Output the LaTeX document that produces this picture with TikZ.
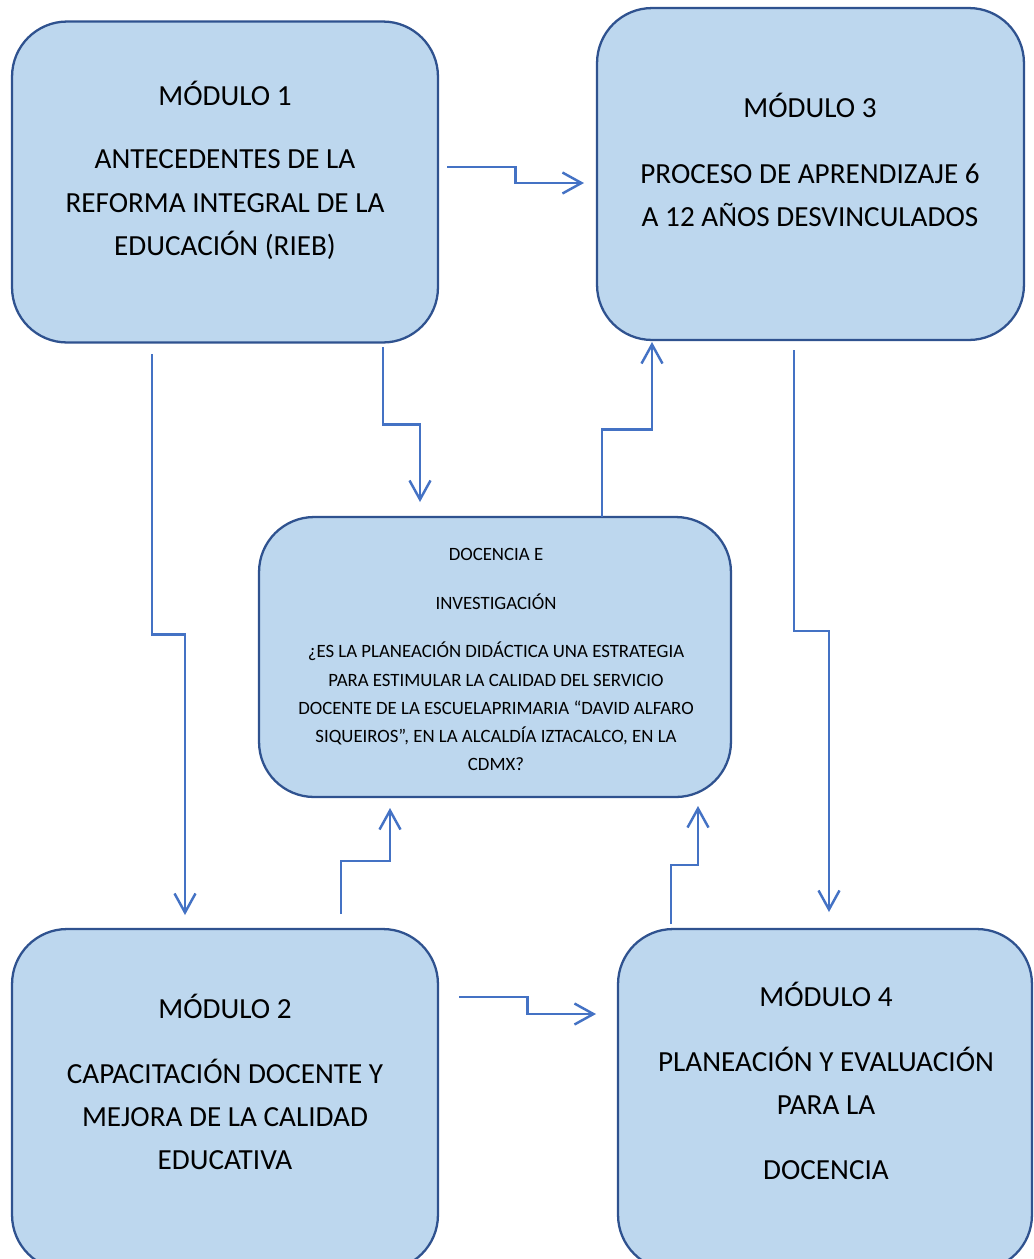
\documentclass[tikz,border=0pt]{standalone}
\usepackage{fontspec}
\setmainfont{Carlito}
\usetikzlibrary{arrows.meta,calc}
\definecolor{boxfill}{HTML}{BDD7EE}
\definecolor{boxline}{HTML}{2F528F}
\definecolor{conn}{HTML}{4472C4}
\begin{document}
\begin{tikzpicture}[x=0.02cm,y=-0.02cm,
  modbox/.style={draw=boxline,fill=boxfill,line width=1.3pt,rounded corners=1.1cm,inner sep=0pt,outer sep=0pt},
  bigtxt/.style={anchor=base,inner sep=0pt,font=\fontsize{16.6}{20}\selectfont},
  smalltxt/.style={anchor=base,inner sep=0pt,font=\fontsize{10.7}{12}\selectfont},
  conline/.style={draw=conn,line width=1.4pt,-{Straight Barb[length=0.38cm,width=0.42cm]}}]
\useasboundingbox (0,0) rectangle (1034,1259);
\clip (0,0) rectangle (1034,1259);
% boxes
\node[modbox,minimum width=8.52cm,minimum height=6.42cm] (m1) at (225,182) {};
\node[modbox,minimum width=8.54cm,minimum height=6.64cm] (m3) at (810.5,174) {};
\node[modbox,minimum width=9.44cm,minimum height=5.6cm] (mc) at (495,657) {};
\node[modbox,minimum width=8.52cm,minimum height=6.82cm] (m2) at (225,1099.5) {};
\node[modbox,minimum width=8.28cm,minimum height=6.82cm] (m4) at (825,1099.5) {};
% texts module 1
\node[bigtxt] (m1a) at (225,105) {MÓDULO 1};
\node[bigtxt] (m1b) at (225,168) {ANTECEDENTES DE LA};
\node[bigtxt] (m1c) at (225,212) {REFORMA INTEGRAL DE LA};
\node[bigtxt] (m1d) at (225,255) {EDUCACIÓN (RIEB)};
% module 3
\node[bigtxt] (m3a) at (810,117) {MÓDULO 3};
\node[bigtxt] (m3b) at (810,183) {PROCESO DE APRENDIZAJE 6};
\node[bigtxt] (m3c) at (810,226) {A 12 AÑOS DESVINCULADOS};
% module 2
\node[bigtxt] (m2a) at (225,1018) {MÓDULO 2};
\node[bigtxt] (m2b) at (225,1083) {CAPACITACIÓN DOCENTE Y};
\node[bigtxt] (m2c) at (225,1126) {MEJORA DE LA CALIDAD};
\node[bigtxt] (m2d) at (225,1169) {EDUCATIVA};
% module 4
\node[bigtxt] (m4a) at (826,1006) {MÓDULO 4};
\node[bigtxt] (m4b) at (826,1071) {PLANEACIÓN Y EVALUACIÓN};
\node[bigtxt] (m4c) at (826,1114) {PARA LA};
\node[bigtxt] (m4d) at (826,1179) {DOCENCIA};
% center
\node[smalltxt] (ca) at (496,560) {DOCENCIA E};
\node[smalltxt] (cb) at (496,609) {INVESTIGACIÓN};
\node[smalltxt] (cc) at (496,657) {¿ES LA PLANEACIÓN DIDÁCTICA UNA ESTRATEGIA};
\node[smalltxt] (cd) at (496,686) {PARA ESTIMULAR LA CALIDAD DEL SERVICIO};
\node[smalltxt] (ce) at (496,714) {DOCENTE DE LA ESCUELAPRIMARIA “DAVID ALFARO};
\node[smalltxt] (cf) at (496,742) {SIQUEIROS”, EN LA ALCALDÍA IZTACALCO, EN LA};
\node[smalltxt] (cg) at (496,770) {CDMX?};
% connector ends
\coordinate (a1s) at (447,167); \coordinate (a1e) at (584,183);
\coordinate (a2s) at (383,347); \coordinate (a2e) at (420,502);
\coordinate (a3s) at (152,354); \coordinate (a3e) at (185,915);
\coordinate (a4s) at (602,517); \coordinate (a4e) at (652,342);
\coordinate (a5s) at (794,350); \coordinate (a5e) at (829,912);
\coordinate (a6s) at (341,914); \coordinate (a6e) at (390,808);
\coordinate (a7s) at (671,924); \coordinate (a7e) at (698,806);
\coordinate (a8s) at (459,997); \coordinate (a8e) at (596,1014);
% connectors
\draw[conline] (a1s) -| ($(a1s)!.5!(a1e)$) |- (a1e);
\draw[conline] (a8s) -| ($(a8s)!.5!(a8e)$) |- (a8e);
\draw[conline] (a2s) |- ($(a2s)!.5!(a2e)$) -| (a2e);
\draw[conline] (a3s) |- ($(a3s)!.5!(a3e)$) -| (a3e);
\draw[conline] (a4s) |- ($(a4s)!.5!(a4e)$) -| (a4e);
\draw[conline] (a5s) |- ($(a5s)!.5!(a5e)$) -| (a5e);
\draw[conline] (a6s) |- ($(a6s)!.5!(a6e)$) -| (a6e);
\draw[conline] (a7s) |- ($(a7s)!.5!(a7e)$) -| (a7e);
\end{tikzpicture}
\end{document}
